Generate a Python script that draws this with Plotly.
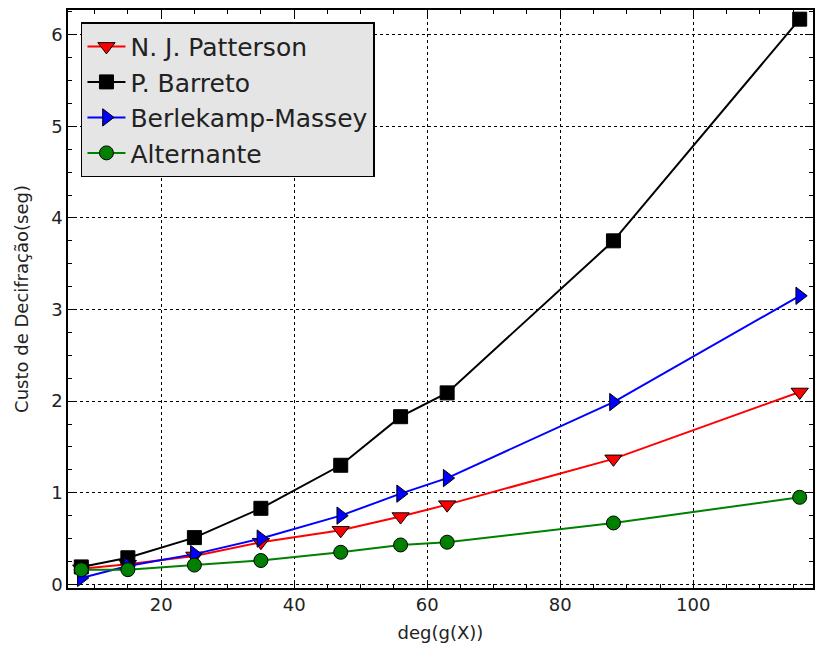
import plotly.graph_objects as go

x_deg = [8, 15, 25, 35, 47, 56, 63, 88, 116]
patterson = [0.17, 0.22, 0.31, 0.46, 0.59, 0.74, 0.87, 1.37, 2.10]
barreto = [0.19, 0.29, 0.51, 0.83, 1.30, 1.83, 2.09, 3.75, 6.17]
berlekamp = [0.07, 0.20, 0.33, 0.50, 0.75, 0.99, 1.16, 1.99, 3.15]
alternante = [0.16, 0.16, 0.21, 0.26, 0.35, 0.43, 0.46, 0.67, 0.95]

series = [
    ("N. J. Patterson", patterson, "#ff0000", "triangle-down", 15),
    ("P. Barreto", barreto, "#000000", "square", 14),
    ("Berlekamp-Massey", berlekamp, "#0000ff", "triangle-right", 15),
    ("Alternante", alternante, "#008000", "circle", 14),
]

fig = go.Figure()
for name, vals, col, sym, sz in series:
    fig.add_trace(go.Scatter(
        x=x_deg, y=vals, name=name, mode="lines+markers",
        line=dict(color=col, width=2),
        marker=dict(symbol=sym, size=sz, color=col, line=dict(color="black", width=1)),
    ))

font = "DejaVu Sans, sans-serif"
axis_common = dict(
    showline=True, linecolor="black", linewidth=1.5, mirror="ticks",
    ticks="inside", ticklen=8, tickcolor="black", tickwidth=1,
    showgrid=True, gridcolor="black", griddash="dot", gridwidth=1,
    zeroline=False, tickfont=dict(family=font, size=18, color="#222"),
)
fig.update_xaxes(
    range=[6, 118], tickvals=[20, 40, 60, 80, 100],
    minor=dict(ticks="inside", ticklen=4, tickcolor="black", dtick=5, tick0=0, showgrid=False),
    title=dict(text="deg(g(X))", font=dict(family=font, size=18, color="#222"), standoff=12),
    **axis_common,
)
fig.update_yaxes(
    range=[-0.04, 6.27], tickvals=[0, 1, 2, 3, 4, 5, 6],
    minor=dict(ticks="inside", ticklen=4, tickcolor="black", dtick=0.25, tick0=0, showgrid=False),
    title=dict(text="Custo de Decifração(seg)", font=dict(family=font, size=18, color="#222"), standoff=18),
    **axis_common,
)
fig.update_layout(
    width=817, height=647,
    margin=dict(l=68, r=2, t=10, b=59),
    plot_bgcolor="white", paper_bgcolor="white",
    font=dict(family=font, color="#222"),
    legend=dict(
        x=0.0174, y=0.979, xanchor="left", yanchor="top",
        bgcolor="#e5e5e5", bordercolor="black", borderwidth=1.5,
        font=dict(family=font, size=25, color="#222"),
        itemwidth=38, tracegroupgap=0,
    ),
    showlegend=True,
)
fig.write_html("out.html")
